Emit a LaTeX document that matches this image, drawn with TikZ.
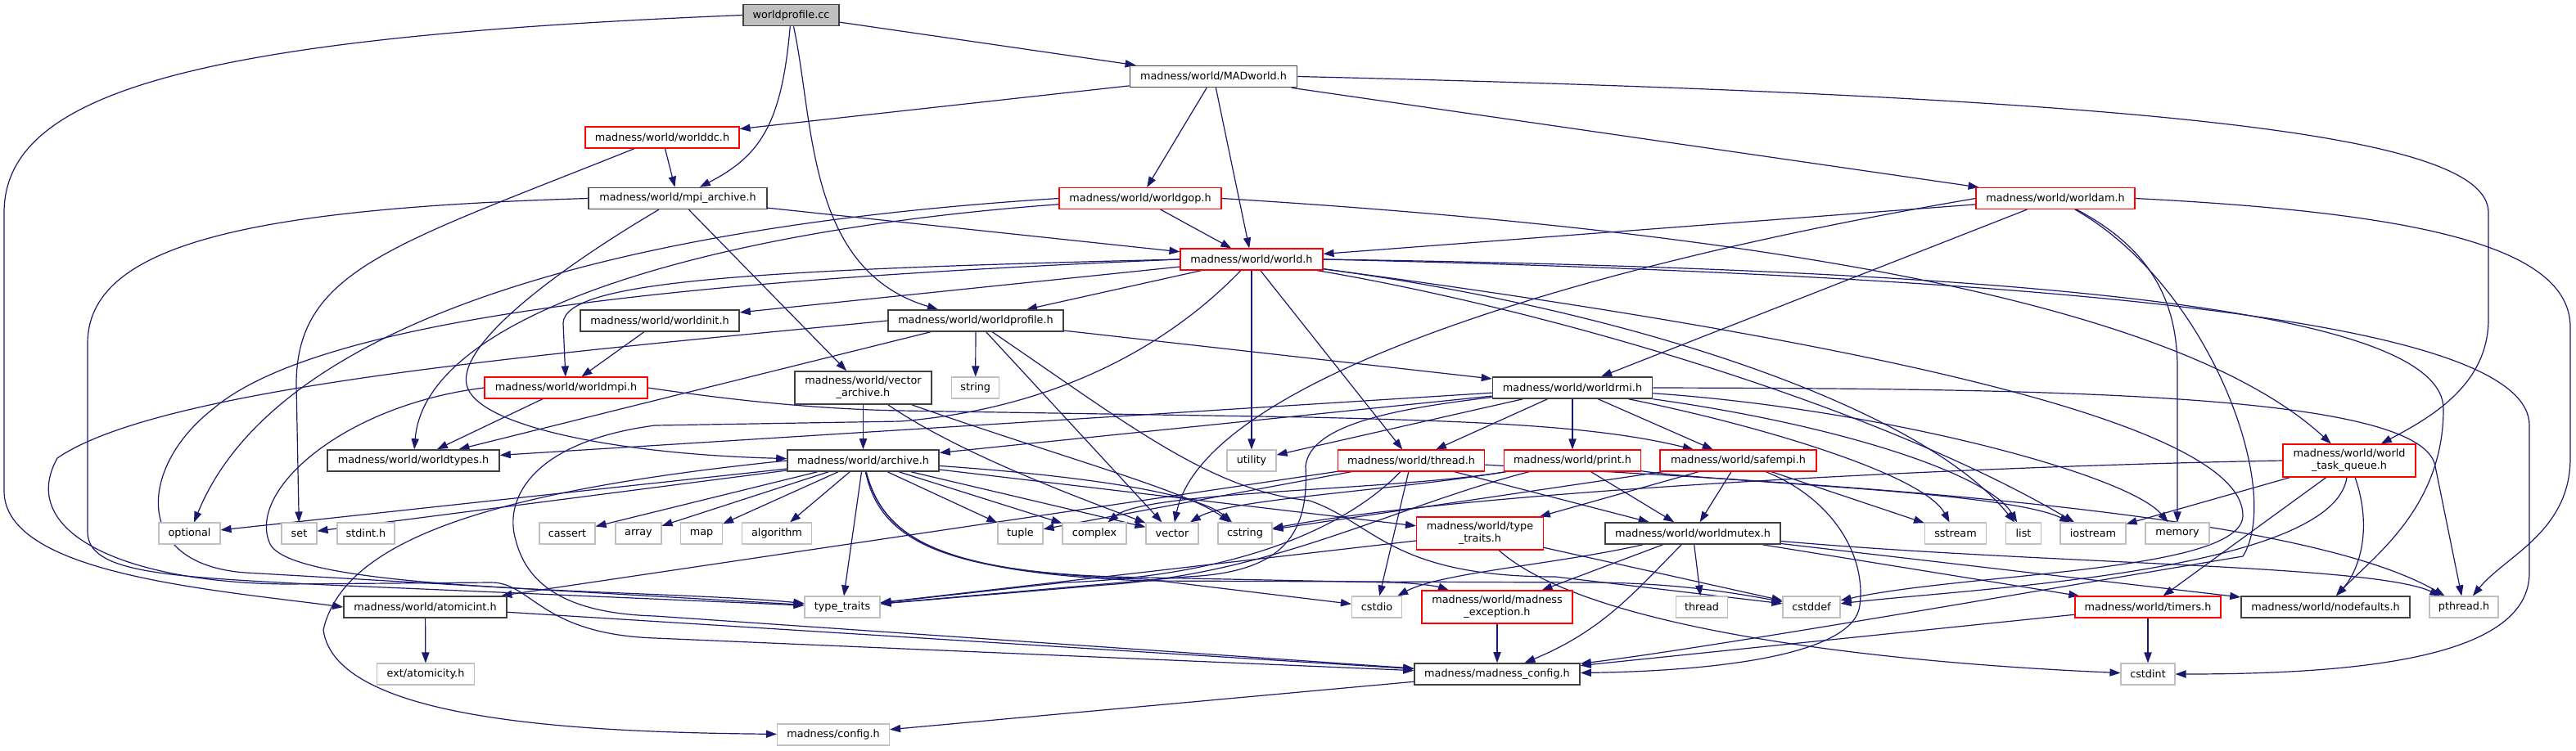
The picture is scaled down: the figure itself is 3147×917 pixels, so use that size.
\documentclass[tikz,border=0pt]{standalone}
\usepackage{fontspec}
\setmainfont{DejaVu Sans}
\usetikzlibrary{arrows.meta}
\pgfdeclarelayer{bg}
\pgfsetlayers{bg,main}
\definecolor{edgec}{HTML}{191970}
\definecolor{nodered}{HTML}{FF0000}
\definecolor{nodegray}{HTML}{BFBFBF}
\definecolor{nodeblk}{HTML}{404040}
\begin{document}
\begin{tikzpicture}[x=0.5pt,y=-0.5pt,
  nb/.style={rectangle, fill=white, inner sep=0pt, minimum height=13pt, font=\fontsize{6.4pt}{7.5pt}\selectfont, align=center, line width=0.55pt},
  blk/.style={nb, draw=nodeblk, line width=0.8pt},
  rd/.style={nb, draw=nodered},
  gy/.style={nb, draw=nodegray},
  rt/.style={nb, draw=nodeblk, fill=nodegray, line width=0.8pt},
  twol/.style={minimum height=20pt},
  ed/.style={draw=edgec, line width=0.6pt, -{Triangle[length=6.5pt,width=4.6pt]}}]
\useasboundingbox (0,0) rectangle (3147,917);
% rank 0-5
\node[rt, minimum width=58.5pt] (root) at (966.5,18.5) {worldprofile.cc};
\node[blk, minimum width=102pt] (madworld) at (1482.5,93.5) {madness/world/MADworld.h};
\node[rd, minimum width=94pt] (worlddc) at (809,168) {madness/world/worlddc.h};
\node[blk, minimum width=109pt] (mpiarch) at (828,242.5) {madness/world/mpi\_archive.h};
\node[rd, minimum width=99pt] (worldgop) at (1393,242.5) {madness/world/worldgop.h};
\node[rd, minimum width=97pt] (worldam) at (2511,242.5) {madness/world/worldam.h};
\node[rd, minimum width=87pt] (world) at (1529,317) {madness/world/world.h};
\node[blk, minimum width=97pt] (worldinit) at (806,392) {madness/world/worldinit.h};
\node[blk, minimum width=107pt] (wprofh) at (1192,392) {madness/world/worldprofile.h};
% rank 6
\node[rd, minimum width=99.5pt] (worldmpi) at (691.5,474) {madness/world/worldmpi.h};
\node[blk, twol, minimum width=83.5pt] (vecarch) at (1054.5,474) {madness/world/vector\\\_archive.h};
\node[gy, minimum width=29pt] (string) at (1191.7,474) {string};
\node[blk, minimum width=97.5pt] (worldrmi) at (1921,474) {madness/world/worldrmi.h};
% rank 7
\node[blk, minimum width=105pt] (wtypes) at (505,563) {madness/world/worldtypes.h};
\node[blk, minimum width=92.5pt] (archive) at (1054.5,563) {madness/world/archive.h};
\node[gy, minimum width=30pt] (utility) at (1529,563) {utility};
\node[rd, minimum width=89.5pt] (threadh) at (1724,563) {madness/world/thread.h};
\node[rd, minimum width=83.5pt] (printh) at (1921,563) {madness/world/print.h};
\node[rd, minimum width=95.5pt] (safempi) at (2123.5,563) {madness/world/safempi.h};
\node[rd, twol, minimum width=81pt] (wtq) at (2870,563) {madness/world/world\\\_task\_queue.h};
% rank 8
\node[gy, minimum width=37.5pt] (optional) at (231.5,652) {optional};
\node[gy, minimum width=21.5pt] (set) at (365.5,652) {set};
\node[gy, minimum width=35pt] (stdinth) at (447,652) {stdint.h};
\node[gy, minimum width=34pt] (cassert) at (693,652) {cassert};
\node[gy, minimum width=28pt] (array) at (780,652) {array};
\node[gy, minimum width=25.5pt] (map) at (857,652) {map};
\node[gy, minimum width=42.5pt] (algorithm) at (949,652) {algorithm};
\node[gy, minimum width=27.5pt] (tuple) at (1246.5,652) {tuple};
\node[gy, minimum width=39pt] (complex) at (1337,652) {complex};
\node[gy, minimum width=32pt] (vector) at (1432,652) {vector};
\node[gy, minimum width=33pt] (cstring) at (1521,652) {cstring};
\node[rd, twol, minimum width=77.5pt] (tth) at (1808,652) {madness/world/type\\\_traits.h};
\node[blk, minimum width=107pt] (wmutex) at (2068,652) {madness/world/worldmutex.h};
\node[gy, minimum width=37.5pt] (sstream) at (2389,652) {sstream};
\node[gy, minimum width=21.5pt] (list) at (2472,652) {list};
\node[gy, minimum width=40pt] (iostream) at (2557,652) {iostream};
\node[gy, minimum width=39pt] (memory) at (2660,652) {memory};
% rank 9
\node[blk, minimum width=99.5pt] (atomicint) at (519.5,742) {madness/world/atomicint.h};
\node[gy, minimum width=46pt] (typetr) at (1029,742) {type\_traits};
\node[gy, minimum width=30.5pt] (cstdio) at (1682,742) {cstdio};
\node[rd, twol, minimum width=92pt] (mexc) at (1829,742) {madness/world/madness\\\_exception.h};
\node[gy, minimum width=31.5pt] (thread) at (2079,742) {thread};
\node[gy, minimum width=35pt] (cstddef) at (2213,742) {cstddef};
\node[rd, minimum width=89pt] (timers) at (2624,742) {madness/world/timers.h};
\node[blk, minimum width=103pt] (nodefaults) at (2841,742) {madness/world/nodefaults.h};
\node[gy, minimum width=42pt] (pthread) at (3010,742) {pthread.h};
% rank 10-11
\node[gy, minimum width=59.5pt] (extatom) at (520,824) {ext/atomicity.h};
\node[blk, minimum width=101pt] (mcfg) at (1829,824) {madness/madness\_config.h};
\node[gy, minimum width=33pt] (cstdint) at (2624,824) {cstdint};
\node[gy, minimum width=68.5pt] (configh) at (1018,898) {madness/config.h};

\begin{pgfonlayer}{bg}
\fill[white] (0,0) rectangle (3147,917);
% root
\draw[ed] (root) -- (madworld);
\draw[ed] (root) .. controls (955,150) and (930,190) .. (mpiarch);
\draw[ed] (root) .. controls (995,150) and (985,330) .. (wprofh);
\draw[ed] (root.west) .. controls (250,45) and (5,110) .. (5,260) -- (5,600) .. controls (5,700) and (250,720) .. (atomicint.west);
% MADworld
\draw[ed] (madworld) -- (worlddc);
\draw[ed] (madworld) -- (worldgop);
\draw[ed] (madworld) -- (world);
\draw[ed] (madworld) -- (worldam);
\draw[ed] (madworld.east) .. controls (2700,120) and (3040,170) .. (3040,260) -- (3040,390) .. controls (3040,470) and (2970,510) .. (wtq);
% worlddc
\draw[ed] (worlddc) -- (mpiarch);
\draw[ed] (worlddc) .. controls (480,300) and (362,330) .. (362,470) -- (set);
% mpi_archive
\draw[ed] (mpiarch) -- (world);
\draw[ed] (mpiarch) -- (vecarch);
\draw[ed] (mpiarch) .. controls (680,330) and (560,420) .. (570,470) .. controls (580,520) and (750,555) .. (archive);
\draw[ed] (mpiarch.west) .. controls (300,255) and (107,300) .. (107,420) -- (107,650) .. controls (107,700) and (200,705) .. (400,715) -- (typetr);
% worldgop
\draw[ed] (worldgop) -- (world);
\draw[ed] (worldgop) .. controls (880,280) and (520,380) .. (wtypes);
\draw[ed] (worldgop.west) .. controls (700,280) and (330,410) .. (optional);
\draw[ed] (worldgop.east) .. controls (2100,280) and (2650,360) .. (wtq);
% worldam
\draw[ed] (worldam) -- (world);
\draw[ed] (worldam) -- (worldrmi);
\draw[ed] (worldam.west) .. controls (1900,330) and (1470,470) .. (vector);
\draw[ed] (worldam) .. controls (2620,300) and (2660,360) .. (2660,450) -- (memory);
\draw[ed] (worldam.east) .. controls (2950,260) and (3140,300) .. (3140,400) -- (3140,560) .. controls (3140,650) and (3060,680) .. (pthread);
\draw[ed] (worldam) .. controls (2700,350) and (2790,600) .. (2740,680) .. controls (2500,720) and (2100,790) .. (mcfg);
% world
\draw[ed] (world) -- (worldinit);
\draw[ed] (world) -- (wprofh);
\draw[ed] (world.west) .. controls (900,330) and (690,345) .. (688,395) -- (worldmpi);
\draw[ed] (world) -- (utility);
\draw[ed] (world) -- (threadh);
\draw[ed] (world.east) .. controls (2500,330) and (2985,380) .. (2985,500) .. controls (2985,620) and (2900,680) .. (nodefaults);
\draw[ed] (world.east) .. controls (2600,340) and (3090,400) .. (3090,520) -- (3090,700) .. controls (3090,800) and (2900,824) .. (cstdint);
\draw[ed] (world) .. controls (2300,420) and (2740,520) .. (2740,630) .. controls (2740,700) and (2400,700) .. (cstddef);
\draw[ed] (world.west) .. controls (900,340) and (400,380) .. (260,500) .. controls (170,570) and (160,690) .. (300,700) -- (typetr);
\draw[ed] (world) .. controls (1420,430) and (1280,500) .. (1100,515) -- (800,520) .. controls (650,540) and (615,610) .. (630,660) .. controls (645,720) and (700,750) .. (800,753) -- (mcfg);
\draw[ed] (world) .. controls (1900,380) and (2300,500) .. (iostream);
\draw[ed] (world) .. controls (2000,380) and (2350,500) .. (list);
% worldinit
\draw[ed] (worldinit) -- (worldmpi);
% worldprofile.h
\draw[ed] (wprofh) -- (wtypes);
\draw[ed] (wprofh) -- (string);
\draw[ed] (wprofh) -- (vector);
\draw[ed] (wprofh) -- (worldrmi);
\draw[ed] (wprofh.west) .. controls (700,430) and (200,470) .. (70,560) .. controls (20,650) and (150,712) .. (350,714) -- (600,712) .. controls (650,712) and (660,775) .. (800,780) -- (mcfg);
\draw[ed] (wprofh) .. controls (1380,520) and (1480,600) .. (1600,612) .. controls (1680,640) and (1700,705) .. (1900,705) -- (cstddef);
% worldmpi
\draw[ed] (worldmpi) -- (wtypes);
\draw[ed] (worldmpi.east) .. controls (900,490) and (1000,500) .. (1100,502) -- (1600,510) .. controls (1800,515) and (1950,520) .. (safempi);
\draw[ed] (worldmpi.west) .. controls (420,495) and (300,600) .. (330,665) .. controls (360,725) and (800,720) .. (typetr);
% vector_archive
\draw[ed] (vecarch) -- (archive);
\draw[ed] (vecarch) .. controls (1180,560) and (1350,620) .. (vector);
\draw[ed] (vecarch) .. controls (1300,560) and (1450,600) .. (cstring);
% worldrmi
\draw[ed] (worldrmi) -- (wtypes);
\draw[ed] (worldrmi) -- (archive);
\draw[ed] (worldrmi) -- (utility);
\draw[ed] (worldrmi) -- (threadh);
\draw[ed] (worldrmi) -- (printh);
\draw[ed] (worldrmi) -- (safempi);
\draw[ed] (worldrmi.east) .. controls (2500,475) and (2960,480) .. (2975,570) -- (pthread);
\draw[ed] (worldrmi) .. controls (1700,500) and (1600,520) .. (1595,570) .. controls (1600,660) and (1560,700) .. (1450,705) -- (typetr);
\draw[ed] (worldrmi) .. controls (2150,520) and (2350,580) .. (sstream);
\draw[ed] (worldrmi) .. controls (2250,520) and (2430,580) .. (list);
\draw[ed] (worldrmi) .. controls (2300,500) and (2600,580) .. (memory);
% thread.h
\draw[ed] (threadh) -- (atomicint);
\draw[ed] (threadh) -- (cstdio);
\draw[ed] (threadh) -- (tuple);
\draw[ed] (threadh) .. controls (1640,650) and (1500,705) .. (1300,712) -- (typetr);
\draw[ed] (threadh) -- (wmutex);
\draw[ed] (threadh) .. controls (2200,590) and (2800,620) .. (pthread);
% print.h
\draw[ed] (printh) -- (wmutex);
\draw[ed] (printh) .. controls (1700,600) and (1400,600) .. (complex);
\draw[ed] (printh) .. controls (1700,600) and (1500,610) .. (vector);
\draw[ed] (printh) .. controls (2100,590) and (2450,600) .. (iostream);
\draw[ed] (printh) .. controls (1700,620) and (1560,700) .. (1350,715) -- (typetr);
% safempi
\draw[ed] (safempi) -- (wmutex);
\draw[ed] (safempi) -- (tth);
\draw[ed] (safempi) .. controls (2240,610) and (2280,680) .. (2272,740) .. controls (2265,800) and (2100,820) .. (mcfg);
\draw[ed] (safempi) -- (cstring);
\draw[ed] (safempi) -- (sstream);
% world_task_queue
\draw[ed] (wtq) -- (iostream);
\draw[ed] (wtq) -- (timers);
\draw[ed] (wtq) .. controls (2900,650) and (2880,700) .. (nodefaults);
\draw[ed] (wtq) .. controls (2850,700) and (2400,720) .. (cstddef);
\draw[ed] (wtq.west) .. controls (2400,570) and (1800,600) .. (cstring);
% archive
\draw[ed] (archive) -- (optional);
\draw[ed] (archive) -- (set);
\draw[ed] (archive) -- (cassert);
\draw[ed] (archive) -- (array);
\draw[ed] (archive) -- (map);
\draw[ed] (archive) -- (algorithm);
\draw[ed] (archive) -- (tuple);
\draw[ed] (archive) -- (complex);
\draw[ed] (archive) -- (vector);
\draw[ed] (archive) .. controls (1300,580) and (1460,600) .. (cstring);
\draw[ed] (archive) -- (typetr);
\draw[ed] (archive) -- (tth);
\draw[ed] (archive) .. controls (1080,660) and (1150,700) .. (1400,708) -- (cstdio);
\draw[ed] (archive) .. controls (1075,660) and (1150,702) .. (1400,706) -- (1700,712) .. controls (1740,713) and (1760,718) .. (mexc);
\draw[ed] (archive) .. controls (1080,660) and (1150,700) .. (1400,710) -- (1950,712) .. controls (2050,713) and (2120,725) .. (cstddef);
\draw[ed] (archive.west) .. controls (600,600) and (420,660) .. (395,770) .. controls (410,880) and (700,895) .. (configh);
% type_traits.h
\draw[ed] (tth) -- (typetr);
\draw[ed] (tth) -- (cstddef);
\draw[ed] (tth) .. controls (1940,770) and (2300,810) .. (cstdint);
% worldmutex
\draw[ed] (wmutex) -- (mexc);
\draw[ed] (wmutex) .. controls (2000,720) and (1960,770) .. (mcfg);
\draw[ed] (wmutex) -- (thread);
\draw[ed] (wmutex) .. controls (1900,690) and (1760,700) .. (cstdio);
\draw[ed] (wmutex) -- (timers);
\draw[ed] (wmutex) -- (nodefaults);
\draw[ed] (wmutex) .. controls (2500,690) and (2900,690) .. (pthread);
% others
\draw[ed] (atomicint) -- (extatom);
\draw[ed] (atomicint) -- (mcfg);
\draw[ed] (mexc) -- (mcfg);
\draw[ed] (timers) -- (mcfg);
\draw[ed] (timers) -- (cstdint);
\draw[ed] (mcfg) -- (configh);
\end{pgfonlayer}
\end{tikzpicture}
\end{document}
